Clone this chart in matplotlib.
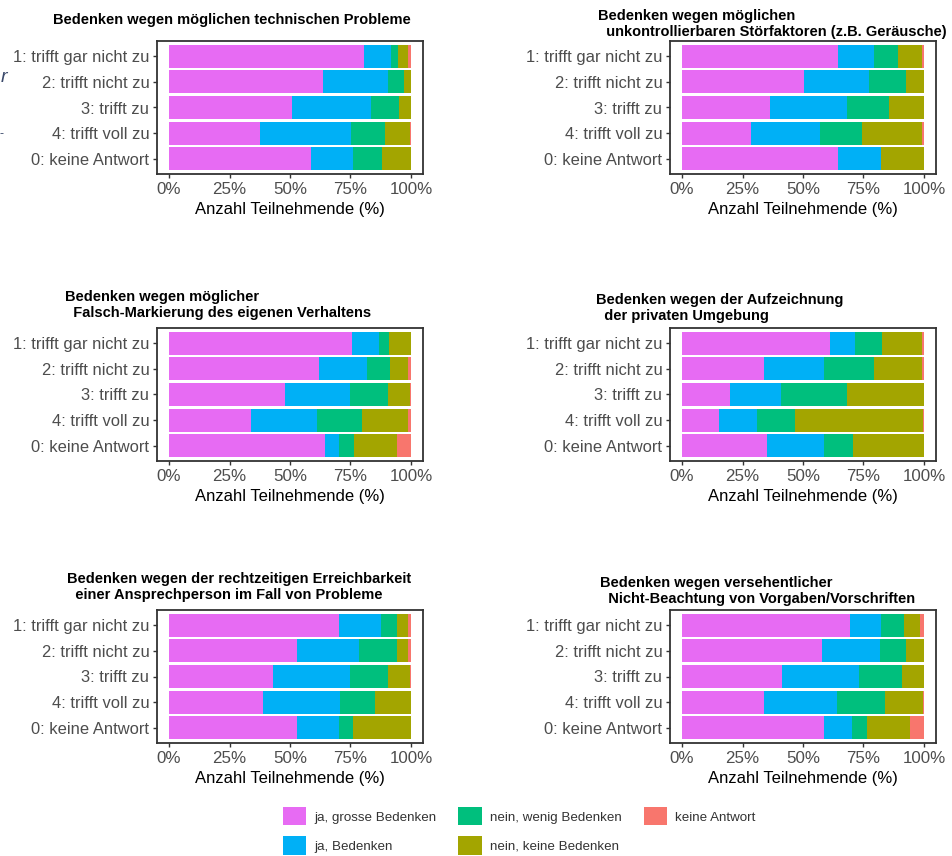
import numpy as np
import matplotlib
matplotlib.use("Agg")
import matplotlib.pyplot as plt
from matplotlib.patches import Patch

plt.rcParams['font.family'] = ['Liberation Sans', 'DejaVu Sans']

# Antwortkategorien (von oben nach unten)
categories = ["1: trifft gar nicht zu", "2: trifft nicht zu", "3: trifft zu",
              "4: trifft voll zu", "0: keine Antwort"]
levels = ["ja, grosse Bedenken", "ja, Bedenken", "nein, wenig Bedenken",
          "nein, keine Bedenken", "keine Antwort"]
colors = ["#E76BF3", "#00B0F6", "#00BF7D", "#A3A500", "#F8766D"]
x_ticks = [0, 25, 50, 75, 100]
x_ticklabels = ["0%", "25%", "50%", "75%", "100%"]

# Anteile (%) je Zeile: grosse, Bedenken, wenig, keine, keine Antwort
technik = [[80.4, 11.4, 2.9, 4.3, 1.0],
           [63.5, 27.2, 6.4, 2.9, 0.0],
           [50.8, 32.6, 11.5, 5.1, 0.0],
           [37.4, 37.9, 14.0, 10.3, 0.4],
           [58.7, 17.4, 12.0, 11.9, 0.0]]
stoerfaktoren = [[64.6, 14.6, 10.0, 10.0, 0.8],
                 [50.6, 26.8, 15.2, 7.4, 0.0],
                 [36.2, 31.8, 17.7, 14.3, 0.0],
                 [28.5, 28.4, 17.4, 24.9, 0.8],
                 [64.6, 17.8, 0.0, 17.6, 0.0]]
falschmarkierung = [[75.7, 10.9, 4.3, 9.1, 0.0],
                    [62.1, 19.7, 9.7, 7.3, 1.2],
                    [48.1, 26.9, 15.7, 8.9, 0.4],
                    [33.7, 27.5, 18.5, 19.1, 1.2],
                    [64.6, 5.6, 6.1, 17.9, 5.8]]
aufzeichnung = [[61.2, 10.1, 11.4, 16.5, 0.8],
                [34.0, 24.6, 20.8, 19.8, 0.8],
                [19.9, 21.0, 27.1, 32.0, 0.0],
                [15.4, 15.6, 15.6, 53.1, 0.3],
                [35.3, 23.3, 11.9, 29.5, 0.0]]
erreichbarkeit = [[70.2, 17.3, 6.6, 4.9, 1.0],
                  [52.8, 25.9, 15.4, 4.9, 1.0],
                  [43.1, 31.8, 15.6, 9.1, 0.4],
                  [38.8, 31.8, 14.4, 15.0, 0.0],
                  [52.8, 17.4, 5.9, 23.9, 0.0]]
vorschriften = [[69.3, 13.1, 9.4, 6.6, 1.6],
                [58.0, 23.8, 10.8, 7.4, 0.0],
                [41.2, 31.8, 17.9, 9.1, 0.0],
                [34.0, 30.1, 20.0, 15.6, 0.3],
                [58.6, 11.8, 6.1, 17.7, 5.8]]

titles = ["Bedenken wegen möglichen technischen Probleme",
          "Bedenken wegen möglichen\n  unkontrollierbaren Störfaktoren (z.B. Geräusche)",
          "Bedenken wegen möglicher\n  Falsch-Markierung des eigenen Verhaltens",
          "Bedenken wegen der Aufzeichnung\n  der privaten Umgebung",
          "Bedenken wegen der rechtzeitigen Erreichbarkeit\n  einer Ansprechperson im Fall von Probleme",
          "Bedenken wegen versehentlicher\n  Nicht-Beachtung von Vorgaben/Vorschriften"]
datasets = [technik, stoerfaktoren, falschmarkierung, aufzeichnung, erreichbarkeit, vorschriften]

W, H = 953, 856
fig = plt.figure(figsize=(W / 100, H / 100), dpi=100)

# Pixel-Layout: (Achse links, oben) und Titelposition (links, oben)
ax_pos = [(157, 41), (670, 41), (157, 328), (670, 328), (157, 610), (670, 610)]
title_pos = [(53, 13), (598, 9), (65, 290), (596, 293), (67, 572), (600, 576)]
ax_w, ax_h = 266, 133

for i, (data, title) in enumerate(zip(datasets, titles)):
    x0, y0 = ax_pos[i]
    ax = fig.add_axes([x0 / W, 1 - (y0 + ax_h) / H, ax_w / W, ax_h / H])
    vals = np.array(data)
    y = np.arange(len(categories))
    left = np.zeros(len(categories))
    for j in range(len(levels)):
        ax.barh(y, vals[:, j], left=left, height=0.9, color=colors[j], linewidth=0)
        left += vals[:, j]
    ax.set_xlim(-5, 105)
    ax.set_ylim(len(categories) - 0.4, -0.6)
    ax.set_yticks(y)
    ax.set_yticklabels(categories, fontsize=11.9, color="#4D4D4D")
    ax.set_xticks(x_ticks)
    ax.set_xticklabels(x_ticklabels, fontsize=12.2, color="#4D4D4D")
    ax.tick_params(length=3, width=1, color="#333333", pad=2.5)
    for s in ax.spines.values():
        s.set_color("#333333")
        s.set_linewidth(1.3)
    ax.set_xlabel("Anzahl Teilnehmende (%)", fontsize=12, color="black", labelpad=4)
    tx, ty = title_pos[i]
    fig.text(tx / W, 1 - ty / H, title, ha="left", va="top", fontsize=10.5,
             fontweight="bold", color="black", linespacing=1.17, multialignment="left")

# Reste am linken Rand
fig.text(1 / W, 1 - 77 / H, "r", fontsize=14, style="italic", color="#3B4A6B", va="center")
fig.text(0, 1 - 134 / H, "-", fontsize=9, color="#3B4A6B", va="center", ha="left")

handles = [Patch(facecolor=c, edgecolor="none") for c in colors]
fig.legend(handles, levels, ncol=3, loc="upper left",
           bbox_to_anchor=(271 / W, 1 - 795 / H), frameon=False, fontsize=9.6,
           handlelength=1.75, handleheight=1.75, handletextpad=0.6,
           columnspacing=1.65, labelspacing=0.8, labelcolor="#333333")

fig.savefig("out.png", dpi=100)
